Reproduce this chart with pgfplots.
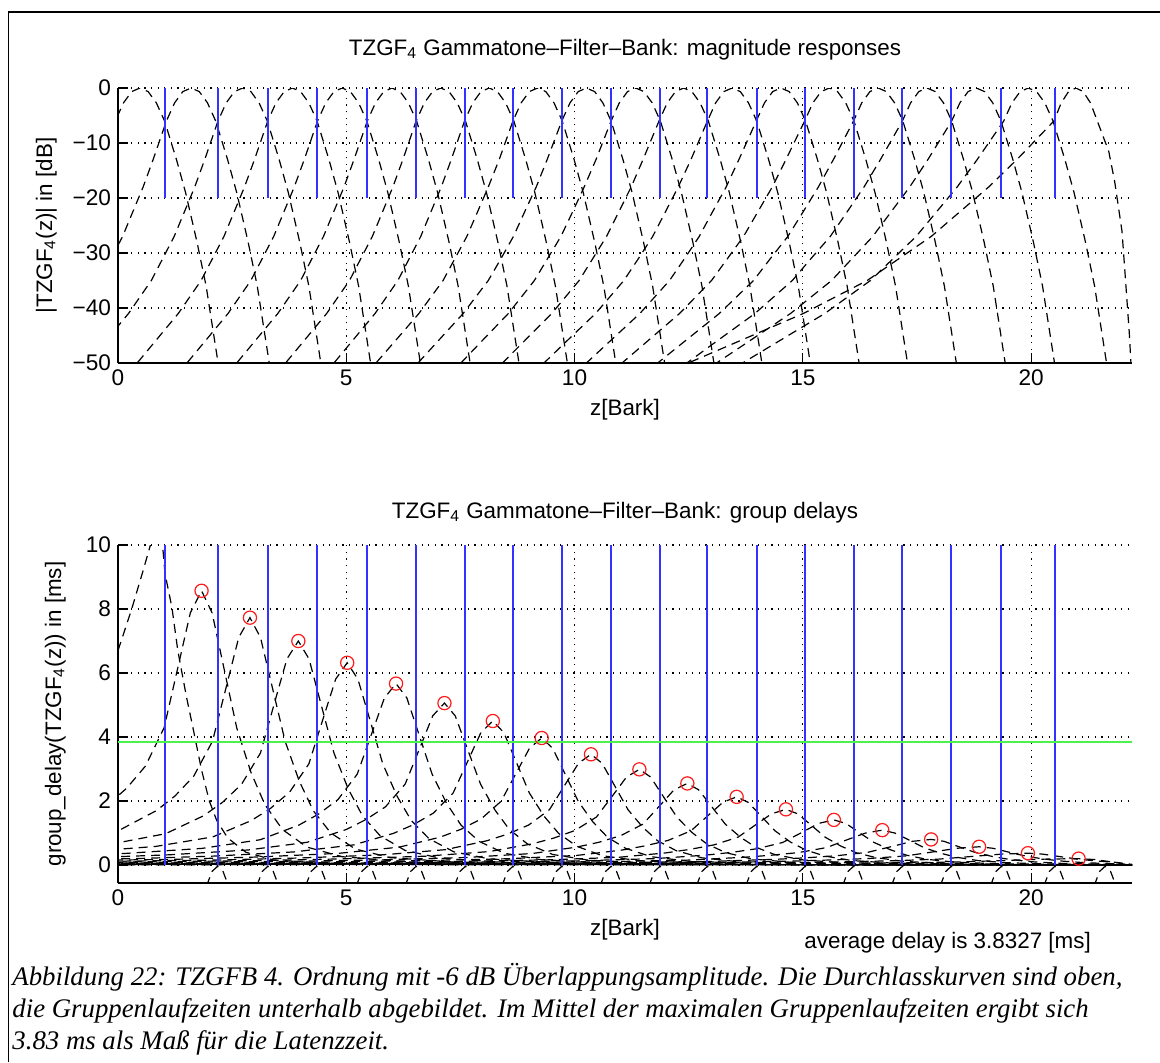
\documentclass[border=0pt]{standalone}
\usepackage{pgfplots}
\pgfplotsset{compat=1.18}
\usepackage{fontspec}
\setmainfont{Liberation Sans}
\newfontfamily\capfont{Liberation Serif}
\definecolor{mblue}{rgb}{0.2,0.2,1}
\definecolor{mgreen}{rgb}{0.3,0.95,0.3}
\definecolor{mred}{rgb}{1,0.1,0.1}
\pgfplotsset{
  mlab/.style={
    scale only axis, width=507pt,
    xmin=0, xmax=22.21,
    axis x line*=bottom, axis y line*=left,
    axis line style={black, line width=0.6pt},
    tick align=inside, major tick length=5pt,
    tick style={black, line width=0.6pt},
    grid=major,
    major grid style={black, line width=0.6pt, dash pattern=on 0.6pt off 2.7pt},
    xtick={0,5,10,15,20},
    ticklabel style={font=\fontsize{11.3pt}{13pt}\selectfont},
    /pgf/number format/assume math mode=true,
  },
  fil/.style={black, line width=0.6pt, dash pattern=on 4.5pt off 3pt},
  blu/.style={ycomb, mblue, line width=1pt},
}
\begin{document}
\begin{tikzpicture}
\useasboundingbox (0,0) rectangle (580pt,-531pt);
\draw[line width=0.9pt] (4.2pt,-531pt) -- (4.2pt,-6pt) -- (580pt,-6pt);

% ---------------- magnitude responses ----------------
\begin{axis}[mlab, at={(59pt,-181.5pt)}, anchor=south west, height=137.5pt,
  ymin=-50, ymax=0, ytick={-50,-40,-30,-20,-10,0},
  yticklabels={−50,−40,−30,−20,−10,0}]
\addplot[fil] coordinates {(-0.35,-13) (-0.06,-6) (0.12,-2.7) (0.30,-0.65) (0.48,0) (0.66,-0.65) (0.84,-2.7) (1.02,-6) (1.28,-13) (1.48,-19) (1.73,-28) (1.93,-36) (2.08,-44) (2.23,-52)};
\addplot[fil] coordinates {(-0.15,-31) (0.10,-27) (0.30,-23) (0.55,-18) (0.77,-13) (1.06,-6) (1.24,-2.7) (1.42,-0.65) (1.60,0) (1.78,-0.65) (1.96,-2.7) (2.14,-6) (2.40,-13) (2.60,-19) (2.85,-28) (3.05,-36) (3.20,-44) (3.35,-52)};
\addplot[fil] coordinates {(-0.27,-46) (0.23,-41) (0.73,-35) (0.98,-31) (1.23,-27) (1.43,-23) (1.68,-18) (1.90,-13) (2.19,-6) (2.37,-2.7) (2.55,-0.65) (2.73,0) (2.91,-0.65) (3.09,-2.7) (3.27,-6) (3.53,-13) (3.73,-19) (3.98,-28) (4.18,-36) (4.33,-44) (4.48,-52)};
\addplot[fil] coordinates {(0.22,-52) (0.82,-46) (1.32,-41) (1.82,-35) (2.07,-31) (2.32,-27) (2.52,-23) (2.77,-18) (2.99,-13) (3.28,-6) (3.46,-2.7) (3.64,-0.65) (3.82,0) (4.00,-0.65) (4.18,-2.7) (4.36,-6) (4.62,-13) (4.82,-19) (5.07,-28) (5.27,-36) (5.42,-44) (5.57,-52)};
\addplot[fil] coordinates {(1.31,-52) (1.91,-46) (2.41,-41) (2.91,-35) (3.16,-31) (3.41,-27) (3.61,-23) (3.86,-18) (4.08,-13) (4.37,-6) (4.55,-2.7) (4.73,-0.65) (4.91,0) (5.09,-0.65) (5.27,-2.7) (5.45,-6) (5.71,-13) (5.91,-19) (6.16,-28) (6.36,-36) (6.51,-44) (6.66,-52)};
\addplot[fil] coordinates {(2.40,-52) (3.00,-46) (3.50,-41) (4.00,-35) (4.25,-31) (4.50,-27) (4.70,-23) (4.95,-18) (5.17,-13) (5.46,-6) (5.64,-2.7) (5.82,-0.65) (6.00,0) (6.18,-0.65) (6.36,-2.7) (6.54,-6) (6.80,-13) (7.00,-19) (7.25,-28) (7.45,-36) (7.60,-44) (7.75,-52)};
\addplot[fil] coordinates {(3.47,-52) (4.07,-46) (4.57,-41) (5.07,-35) (5.32,-31) (5.57,-27) (5.77,-23) (6.02,-18) (6.24,-13) (6.53,-6) (6.71,-2.7) (6.89,-0.65) (7.07,0) (7.25,-0.65) (7.43,-2.7) (7.61,-6) (7.87,-13) (8.07,-19) (8.32,-28) (8.52,-36) (8.67,-44) (8.82,-52)};
\addplot[fil] coordinates {(4.53,-52) (5.13,-46) (5.63,-41) (6.13,-35) (6.38,-31) (6.63,-27) (6.83,-23) (7.08,-18) (7.30,-13) (7.59,-6) (7.77,-2.7) (7.95,-0.65) (8.13,0) (8.31,-0.65) (8.49,-2.7) (8.67,-6) (8.93,-13) (9.13,-19) (9.38,-28) (9.58,-36) (9.73,-44) (9.88,-52)};
\addplot[fil] coordinates {(5.44,-52) (6.07,-46) (6.59,-41) (7.12,-35) (7.38,-31) (7.64,-27) (7.85,-23) (8.11,-18) (8.35,-13) (8.65,-6) (8.83,-2.7) (9.01,-0.65) (9.19,0) (9.37,-0.65) (9.55,-2.7) (9.73,-6) (9.99,-13) (10.19,-19) (10.44,-28) (10.64,-36) (10.79,-44) (10.94,-52)};
\addplot[fil] coordinates {(6.35,-52) (7.01,-46) (7.56,-41) (8.11,-35) (8.39,-31) (8.66,-27) (8.88,-23) (9.16,-18) (9.40,-13) (9.72,-6) (9.90,-2.7) (10.08,-0.65) (10.26,0) (10.44,-0.65) (10.62,-2.7) (10.80,-6) (11.06,-13) (11.26,-19) (11.51,-28) (11.71,-36) (11.86,-44) (12.01,-52)};
\addplot[fil] coordinates {(7.28,-52) (7.97,-46) (8.55,-41) (9.12,-35) (9.41,-31) (9.70,-27) (9.93,-23) (10.21,-18) (10.47,-13) (10.80,-6) (10.98,-2.7) (11.16,-0.65) (11.34,0) (11.52,-0.65) (11.70,-2.7) (11.88,-6) (12.14,-13) (12.34,-19) (12.59,-28) (12.79,-36) (12.94,-44) (13.09,-52)};
\addplot[fil] coordinates {(8.18,-52) (8.90,-46) (9.50,-41) (10.10,-35) (10.40,-31) (10.70,-27) (10.94,-23) (11.24,-18) (11.50,-13) (11.85,-6) (12.03,-2.7) (12.21,-0.65) (12.39,0) (12.57,-0.65) (12.75,-2.7) (12.93,-6) (13.19,-13) (13.39,-19) (13.64,-28) (13.84,-36) (13.99,-44) (14.14,-52)};
\addplot[fil] coordinates {(9.08,-52) (9.83,-46) (10.46,-41) (11.08,-35) (11.40,-31) (11.71,-27) (11.96,-23) (12.27,-18) (12.55,-13) (12.91,-6) (13.09,-2.7) (13.27,-0.65) (13.45,0) (13.63,-0.65) (13.81,-2.7) (13.99,-6) (14.25,-13) (14.45,-19) (14.70,-28) (14.90,-36) (15.05,-44) (15.20,-52)};
\addplot[fil] coordinates {(10.00,-52) (10.78,-46) (11.43,-41) (12.08,-35) (12.41,-31) (12.73,-27) (12.99,-23) (13.32,-18) (13.60,-13) (13.98,-6) (14.16,-2.7) (14.34,-0.65) (14.52,0) (14.70,-0.65) (14.88,-2.7) (15.06,-6) (15.32,-13) (15.52,-19) (15.77,-28) (15.97,-36) (16.12,-44) (16.27,-52)};
\addplot[fil] coordinates {(10.76,-52) (11.60,-46) (12.30,-41) (13.00,-35) (13.35,-31) (13.70,-27) (13.98,-23) (14.33,-18) (14.63,-13) (15.04,-6) (15.22,-2.7) (15.40,-0.65) (15.58,0) (15.76,-0.65) (15.94,-2.7) (16.12,-6) (16.38,-13) (16.58,-19) (16.83,-28) (17.03,-36) (17.18,-44) (17.33,-52)};
\addplot[fil] coordinates {(11.52,-52) (12.42,-46) (13.17,-41) (13.92,-35) (14.29,-31) (14.67,-27) (14.97,-23) (15.34,-18) (15.67,-13) (16.11,-6) (16.29,-2.7) (16.47,-0.65) (16.65,0) (16.83,-0.65) (17.01,-2.7) (17.19,-6) (17.45,-13) (17.65,-19) (17.90,-28) (18.10,-36) (18.25,-44) (18.40,-52)};
\addplot[fil] coordinates {(12.13,-52) (13.12,-46) (13.95,-41) (14.77,-35) (15.18,-31) (15.60,-27) (15.93,-23) (16.34,-18) (16.70,-13) (17.18,-6) (17.36,-2.7) (17.54,-0.65) (17.72,0) (17.90,-0.65) (18.08,-2.7) (18.26,-6) (18.52,-13) (18.72,-19) (18.97,-28) (19.17,-36) (19.32,-44) (19.47,-52)};
\addplot[fil] coordinates {(12.75,-52) (13.83,-46) (14.73,-41) (15.63,-35) (16.08,-31) (16.53,-27) (16.89,-23) (17.34,-18) (17.74,-13) (18.26,-6) (18.44,-2.7) (18.62,-0.65) (18.80,0) (18.98,-0.65) (19.16,-2.7) (19.34,-6) (19.60,-13) (19.80,-19) (20.05,-28) (20.25,-36) (20.40,-44) (20.55,-52)};
\addplot[fil] coordinates {(13.28,-52) (14.48,-46) (15.48,-41) (16.48,-35) (16.98,-31) (17.48,-27) (17.88,-23) (18.38,-18) (18.82,-13) (19.40,-6) (19.58,-2.7) (19.76,-0.65) (19.94,0) (20.12,-0.65) (20.30,-2.7) (20.48,-6) (20.74,-13) (20.94,-19) (21.19,-28) (21.39,-36) (21.54,-44) (21.69,-52)};
\addplot[fil] coordinates {(11.93,-52) (13.61,-46) (15.01,-41) (16.41,-35) (17.11,-31) (17.81,-27) (18.37,-23) (19.07,-18) (19.69,-13) (20.50,-6) (20.66,-2.7) (20.82,-0.65) (20.98,0) (21.14,-0.65) (21.30,-2.7) (21.45,-6) (21.70,-11.5) (21.83,-17) (21.99,-26) (22.06,-34) (22.15,-44.5) (22.20,-52)};
\addplot[blu] coordinates {(1.02,-20) (2.18,-20) (3.28,-20) (4.35,-20) (5.46,-20) (6.53,-20) (7.61,-20) (8.65,-20) (9.72,-20) (10.80,-20) (11.87,-20) (12.91,-20) (13.99,-20) (15.05,-20) (16.11,-20) (17.18,-20) (18.25,-20) (19.35,-20) (20.52,-20)};
\end{axis}

% ---------------- group delays ----------------
\begin{axis}[mlab, at={(59pt,-441.5pt)}, anchor=south west, height=169pt,
  ymin=-0.5625, ymax=10, ytick={0,2,4,6,8,10}]
\addplot[fil] coordinates {(0,6.7) (0.3,8.0) (0.55,9.2) (0.75,10.2) (0.88,10.5) (0.97,10.1) (1.03,9.1) (1.18,8.06) (1.31,6.7) (1.5,5.25) (1.64,4.3) (1.83,2.97) (2.0,2.0) (2.16,1.4) (2.4,0.85) (2.8,0.4) (3.4,0.16) (4.5,0.05) (7,0.01) (22.21,0)};
\addplot[fil] coordinates {(-0.22,1.89) (0.19,2.40) (0.60,3.09) (1.01,4.29) (1.338,6.34) (1.584,7.88) (1.83,8.57) (2.061,7.88) (2.292,6.34) (2.60,4.29) (2.908,2.91) (3.216,1.89) (3.601,1.11) (4.14,0.56) (4.91,0.26) (6.45,0.086) (8.76,0.02) (22.21,0)};
\addplot[fil] coordinates {(-1.21,0.71) (0.02,1.08) (0.84,1.70) (1.25,2.16) (1.66,2.78) (2.07,3.87) (2.398,5.72) (2.644,7.11) (2.89,7.73) (3.121,7.11) (3.352,5.72) (3.66,3.87) (3.968,2.63) (4.276,1.70) (4.661,1.00) (5.20,0.50) (5.97,0.23) (7.51,0.077) (9.82,0.02) (22.21,0)};
\addplot[fil] coordinates {(-0.2,0.64) (1.045,0.98) (1.875,1.54) (2.29,1.96) (2.705,2.52) (3.12,3.50) (3.45,5.18) (3.70,6.44) (3.95,7.00) (4.184,6.44) (4.418,5.18) (4.73,3.50) (5.042,2.38) (5.354,1.54) (5.744,0.91) (6.29,0.455) (7.07,0.21) (8.63,0.07) (10.97,0.018) (22.21,0)};
\addplot[fil] coordinates {(-0.86,0.40) (0.82,0.58) (2.08,0.88) (2.92,1.39) (3.34,1.77) (3.76,2.28) (4.18,3.16) (4.516,4.68) (4.768,5.81) (5.02,6.32) (5.254,5.81) (5.488,4.68) (5.80,3.16) (6.112,2.15) (6.424,1.39) (6.814,0.82) (7.36,0.41) (8.14,0.19) (9.70,0.063) (12.04,0.016) (22.21,0)};
\addplot[fil] coordinates {(-1.56,0.26) (0.14,0.36) (1.84,0.52) (3.115,0.79) (3.965,1.25) (4.39,1.59) (4.815,2.04) (5.24,2.84) (5.58,4.20) (5.835,5.22) (6.09,5.67) (6.327,5.22) (6.564,4.20) (6.88,2.84) (7.196,1.93) (7.512,1.25) (7.907,0.74) (8.46,0.37) (9.25,0.17) (10.83,0.057) (13.2,0.014) (22.21,0)};
\addplot[fil] coordinates {(-0.59,0.23) (1.13,0.32) (2.85,0.47) (4.14,0.71) (5.0,1.11) (5.43,1.42) (5.86,1.82) (6.29,2.53) (6.634,3.74) (6.892,4.66) (7.15,5.06) (7.387,4.66) (7.624,3.74) (7.94,2.53) (8.256,1.72) (8.572,1.11) (8.967,0.66) (9.52,0.33) (10.31,0.15) (11.89,0.05) (14.26,0.013) (22.21,0)};
\addplot[fil] coordinates {(-2.23,0.14) (0.38,0.20) (2.12,0.28) (3.86,0.41) (5.165,0.63) (6.035,0.99) (6.47,1.26) (6.905,1.62) (7.34,2.25) (7.688,3.33) (7.949,4.14) (8.21,4.50) (8.45,4.14) (8.69,3.33) (9.01,2.25) (9.33,1.53) (9.65,0.99) (10.05,0.585) (10.61,0.29) (11.41,0.135) (13.01,0.045) (15.41,0.011) (22.21,0)};
\addplot[fil] coordinates {(-1.4,0.127) (1.27,0.18) (3.05,0.25) (4.83,0.365) (6.165,0.56) (7.055,0.87) (7.50,1.11) (7.945,1.43) (8.39,1.99) (8.746,2.94) (9.013,3.65) (9.28,3.97) (9.52,3.65) (9.76,2.94) (10.08,1.99) (10.40,1.35) (10.72,0.87) (11.12,0.52) (11.68,0.26) (12.48,0.12) (14.08,0.04) (16.48,0.01) (22.21,0)};
\addplot[fil] coordinates {(-0.56,0.11) (2.17,0.156) (3.99,0.22) (5.81,0.32) (7.175,0.48) (8.085,0.76) (8.54,0.97) (8.995,1.25) (9.45,1.73) (9.814,2.56) (10.087,3.18) (10.36,3.46) (10.603,3.18) (10.846,2.56) (11.17,1.73) (11.494,1.18) (11.818,0.76) (12.223,0.45) (12.79,0.225) (13.60,0.10) (15.22,0.035) (17.65,0.009) (22.21,0)};
\addplot[fil] coordinates {(-3.62,0.066) (0.14,0.096) (2.96,0.135) (4.84,0.19) (6.72,0.275) (8.13,0.42) (9.07,0.66) (9.54,0.84) (10.01,1.08) (10.48,1.50) (10.856,2.21) (11.138,2.75) (11.42,2.99) (11.666,2.75) (11.912,2.21) (12.24,1.50) (12.568,1.02) (12.896,0.66) (13.306,0.39) (13.88,0.19) (14.70,0.09) (16.34,0.03) (18.8,0.008) (22.21,0)};
\addplot[fil] coordinates {(-3.05,0.056) (0.83,0.082) (3.74,0.115) (5.68,0.16) (7.62,0.235) (9.075,0.36) (10.045,0.56) (10.53,0.71) (11.015,0.92) (11.50,1.28) (11.888,1.89) (12.179,2.35) (12.47,2.55) (12.719,2.35) (12.968,1.89) (13.30,1.28) (13.632,0.87) (13.964,0.56) (14.379,0.33) (14.96,0.166) (15.79,0.077) (17.45,0.026) (19.94,0.007) (22.21,0)};
\addplot[fil] coordinates {(-2.45,0.047) (1.55,0.068) (4.55,0.096) (6.55,0.134) (8.55,0.196) (10.05,0.30) (11.05,0.47) (11.55,0.60) (12.05,0.77) (12.55,1.07) (12.95,1.58) (13.25,1.96) (13.55,2.13) (13.802,1.96) (14.054,1.58) (14.39,1.07) (14.726,0.72) (15.062,0.47) (15.482,0.28) (16.07,0.14) (16.91,0.064) (18.59,0.021) (21.11,0.005) (22.21,0)};
\addplot[fil] coordinates {(-2.17,0.038) (2.03,0.056) (5.18,0.078) (7.28,0.11) (9.38,0.16) (10.955,0.24) (12.005,0.38) (12.53,0.49) (13.055,0.63) (13.58,0.87) (14.0,1.29) (14.315,1.60) (14.63,1.74) (14.888,1.60) (15.146,1.29) (15.49,0.87) (15.834,0.59) (16.178,0.38) (16.608,0.23) (17.21,0.113) (18.07,0.052) (19.79,0.017) (22.21,0)};
\addplot[fil] coordinates {(-2.24,0.031) (2.24,0.045) (5.6,0.063) (7.84,0.089) (10.08,0.13) (11.76,0.20) (12.88,0.31) (13.44,0.395) (14.0,0.51) (14.56,0.705) (15.008,1.04) (15.344,1.30) (15.68,1.41) (15.944,1.30) (16.208,1.04) (16.56,0.705) (16.912,0.48) (17.264,0.31) (17.704,0.18) (18.32,0.092) (19.2,0.042) (20.96,0.014) (22.21,0)};
\addplot[fil] coordinates {(-2.78,0.024) (2.10,0.035) (5.76,0.049) (8.20,0.069) (10.64,0.10) (12.47,0.153) (13.69,0.24) (14.30,0.305) (14.91,0.39) (15.52,0.545) (16.008,0.81) (16.374,1.00) (16.74,1.09) (17.013,1.00) (17.286,0.81) (17.65,0.545) (18.014,0.37) (18.378,0.24) (18.833,0.14) (19.47,0.071) (20.38,0.033) (22.21,0.005)};
\addplot[fil] coordinates {(-4.27,0.018) (1.25,0.026) (5.39,0.036) (8.15,0.050) (10.91,0.074) (12.98,0.112) (14.36,0.176) (15.05,0.224) (15.74,0.29) (16.43,0.40) (16.982,0.59) (17.396,0.74) (17.81,0.80) (18.095,0.74) (18.38,0.59) (18.76,0.40) (19.14,0.27) (19.52,0.176) (19.995,0.104) (20.66,0.052) (21.61,0.024) (22.21,0)};
\addplot[fil] coordinates {(-0.34,0.018) (4.46,0.026) (7.66,0.036) (10.86,0.052) (13.26,0.08) (14.86,0.125) (15.66,0.16) (16.46,0.205) (17.26,0.285) (17.90,0.42) (18.38,0.524) (18.86,0.57) (19.16,0.524) (19.46,0.42) (19.86,0.285) (20.26,0.19) (20.66,0.125) (21.16,0.074) (21.86,0.037) (22.21,0)};
\addplot[fil] coordinates {(-3.47,0.012) (2.38,0.017) (6.28,0.023) (10.18,0.034) (13.105,0.052) (15.055,0.081) (16.03,0.104) (17.005,0.133) (17.98,0.185) (18.76,0.274) (19.345,0.34) (19.93,0.37) (20.254,0.34) (20.578,0.274) (21.01,0.185) (21.442,0.126) (21.874,0.081) (22.21,0.02)};
\addplot[fil] coordinates {(-1.46,0.009) (3.54,0.0126) (8.54,0.018) (12.29,0.028) (14.79,0.044) (16.04,0.056) (17.29,0.072) (18.54,0.10) (19.54,0.148) (20.29,0.184) (21.04,0.20) (21.40,0.17) (21.80,0.09) (22.15,0)};
\addplot[fil, unbounded coords=jump] coordinates {
(1.94,-0.65) (2.06,-0.2) (2.18,-0.04) (2.30,-0.2) (2.42,-0.65) (2.43,nan)
(3.04,-0.65) (3.16,-0.2) (3.28,-0.04) (3.40,-0.2) (3.52,-0.65) (3.53,nan)
(4.11,-0.65) (4.23,-0.2) (4.35,-0.04) (4.47,-0.2) (4.59,-0.65) (4.60,nan)
(5.22,-0.65) (5.34,-0.2) (5.46,-0.04) (5.58,-0.2) (5.70,-0.65) (5.71,nan)
(6.29,-0.65) (6.41,-0.2) (6.53,-0.04) (6.65,-0.2) (6.77,-0.65) (6.78,nan)
(7.37,-0.65) (7.49,-0.2) (7.61,-0.04) (7.73,-0.2) (7.85,-0.65) (7.86,nan)
(8.41,-0.65) (8.53,-0.2) (8.65,-0.04) (8.77,-0.2) (8.89,-0.65) (8.90,nan)
(9.48,-0.65) (9.60,-0.2) (9.72,-0.04) (9.84,-0.2) (9.96,-0.65) (9.97,nan)
(10.56,-0.65) (10.68,-0.2) (10.80,-0.04) (10.92,-0.2) (11.04,-0.65) (11.05,nan)
(11.63,-0.65) (11.75,-0.2) (11.87,-0.04) (11.99,-0.2) (12.11,-0.65) (12.12,nan)
(12.67,-0.65) (12.79,-0.2) (12.91,-0.04) (13.03,-0.2) (13.15,-0.65) (13.16,nan)
(13.75,-0.65) (13.87,-0.2) (13.99,-0.04) (14.11,-0.2) (14.23,-0.65) (14.24,nan)
(14.81,-0.65) (14.93,-0.2) (15.05,-0.04) (15.17,-0.2) (15.29,-0.65) (15.30,nan)
(15.87,-0.65) (15.99,-0.2) (16.11,-0.04) (16.23,-0.2) (16.35,-0.65) (16.36,nan)
(16.94,-0.65) (17.06,-0.2) (17.18,-0.04) (17.30,-0.2) (17.42,-0.65) (17.43,nan)
(18.01,-0.65) (18.13,-0.2) (18.25,-0.04) (18.37,-0.2) (18.49,-0.65) (18.50,nan)
(19.11,-0.65) (19.23,-0.2) (19.35,-0.04) (19.47,-0.2) (19.59,-0.65) (19.60,nan)
(20.28,-0.65) (20.40,-0.2) (20.52,-0.04) (20.64,-0.2) (20.76,-0.65) (20.77,nan)
(21.38,-0.65) (21.50,-0.2) (21.62,-0.04) (21.74,-0.2) (21.86,-0.65)};
\addplot[blu] coordinates {(1.02,10) (2.18,10) (3.28,10) (4.35,10) (5.46,10) (6.53,10) (7.61,10) (8.65,10) (9.72,10) (10.80,10) (11.87,10) (12.91,10) (13.99,10) (15.05,10) (16.11,10) (17.18,10) (18.25,10) (19.35,10) (20.52,10)};
\addplot[mgreen, line width=0.9pt] coordinates {(0,3.8327) (22.21,3.8327)};
\addplot[only marks, mark=o, mark size=3.3pt, mred, mark options={line width=0.6pt}] coordinates {(1.83,8.57) (2.89,7.73) (3.95,7.00) (5.02,6.32) (6.09,5.67) (7.15,5.06) (8.21,4.50) (9.28,3.97) (10.36,3.46) (11.42,2.99) (12.47,2.55) (13.55,2.13) (14.63,1.74) (15.68,1.41) (16.74,1.09) (17.81,0.80) (18.86,0.57) (19.93,0.37) (21.04,0.20)};
\end{axis}

% ---------------- texts ----------------
\begin{scope}[every node/.style={inner sep=0pt, font=\fontsize{11.2pt}{13pt}\selectfont}]
\node[anchor=base] at (312.5pt,-27.5pt) {TZGF\textsubscript{4} Gammatone–Filter–Bank: magnitude responses};
\node[anchor=base] at (312.5pt,-259pt) {TZGF\textsubscript{4} Gammatone–Filter–Bank: group delays};
\node[anchor=center] at (312.5pt,-205pt) {z[Bark]};
\node[anchor=center] at (312.5pt,-465pt) {z[Bark]};
\node[anchor=base, rotate=90] at (26pt,-112.75pt) {|TZGF\textsubscript{4}(z)| in [dB]};
\node[anchor=base, rotate=90] at (30.5pt,-357pt) {group\_delay(TZGF\textsubscript{4}(z)) in [ms]};
\node[anchor=west] at (402pt,-471.5pt) {average delay is 3.8327 [ms]};
\end{scope}
\begin{scope}[every node/.style={inner sep=0pt, anchor=base west, font=\capfont\itshape\fontsize{13.4pt}{16pt}\selectfont}]
\node at (6pt,-492.5pt) {Abbildung 22: TZGFB 4. Ordnung mit -6 dB Überlappungsamplitude. Die Durchlasskurven sind oben,};
\node at (6pt,-508.5pt) {die Gruppenlaufzeiten unterhalb abgebildet. Im Mittel der maximalen Gruppenlaufzeiten ergibt sich};
\node at (6pt,-524.5pt) {3.83 ms als Maß für die Latenzzeit.};
\end{scope}
\end{tikzpicture}
\end{document}
